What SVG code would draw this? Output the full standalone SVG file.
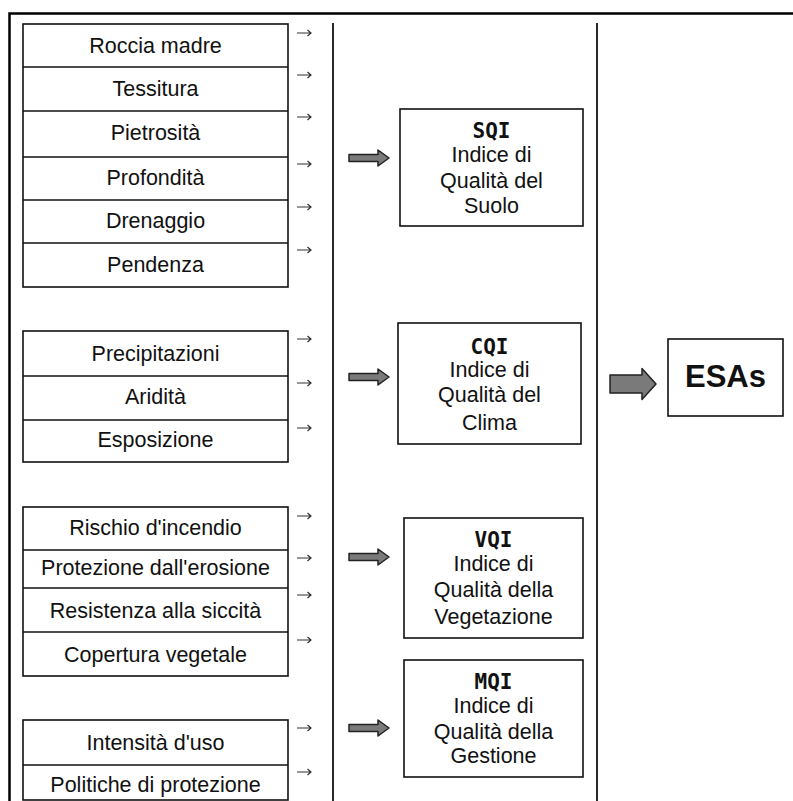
<svg xmlns="http://www.w3.org/2000/svg" width="793" height="801" viewBox="0 0 793 801">
<style>
.box{fill:#fff;stroke:#111;stroke-width:1.6}
.sep{stroke:#111;stroke-width:1.6}
.t{font-family:"Liberation Sans",Arial,sans-serif;font-size:21.5px;fill:#111;text-anchor:middle}
.h{font-family:"DejaVu Sans Mono","Liberation Mono",monospace;font-weight:bold;font-size:21px;fill:#111;text-anchor:middle}
.esa{font-family:"Liberation Sans",Arial,sans-serif;font-weight:bold;font-size:31px;fill:#111;text-anchor:middle}
.sa{fill:none;stroke:#333;stroke-width:1.2}
.ba{fill:#7a7a7a;stroke:#222;stroke-width:1.5;stroke-linejoin:round}
.frame{stroke:#000;stroke-width:2.5;fill:none}
.vl{stroke:#111;stroke-width:1.8}
</style>
<rect width="793" height="801" fill="#fff"/>
<path class="frame" d="M9.5,801 V13.5 H793"/>
<g id="dividers">
<line class="vl" x1="333" y1="23" x2="333" y2="801"/>
<line class="vl" x1="597" y1="23" x2="597" y2="801"/>
</g>
<g id="soil-factors">
<rect class="box" x="23" y="24" width="265" height="263"/>
<line class="sep" x1="23" y1="67" x2="288" y2="67"/>
<line class="sep" x1="23" y1="111" x2="288" y2="111"/>
<line class="sep" x1="23" y1="157" x2="288" y2="157"/>
<line class="sep" x1="23" y1="200" x2="288" y2="200"/>
<line class="sep" x1="23" y1="243" x2="288" y2="243"/>
<text class="t" x="155.5" y="53">Roccia madre</text>
<text class="t" x="155.5" y="96">Tessitura</text>
<text class="t" x="155.5" y="140">Pietrosità</text>
<text class="t" x="155.5" y="185">Profondità</text>
<text class="t" x="155.5" y="228">Drenaggio</text>
<text class="t" x="155.5" y="272">Pendenza</text>
</g>
<g id="climate-factors">
<rect class="box" x="23" y="331" width="265" height="131"/>
<line class="sep" x1="23" y1="376" x2="288" y2="376"/>
<line class="sep" x1="23" y1="420" x2="288" y2="420"/>
<text class="t" x="155.5" y="361">Precipitazioni</text>
<text class="t" x="155.5" y="404">Aridità</text>
<text class="t" x="155.5" y="447">Esposizione</text>
</g>
<g id="vegetation-factors">
<rect class="box" x="23" y="507" width="265" height="169"/>
<line class="sep" x1="23" y1="550" x2="288" y2="550"/>
<line class="sep" x1="23" y1="588" x2="288" y2="588"/>
<line class="sep" x1="23" y1="632" x2="288" y2="632"/>
<text class="t" x="155.5" y="535">Rischio d'incendio</text>
<text class="t" x="155.5" y="575">Protezione dall'erosione</text>
<text class="t" x="155.5" y="618">Resistenza alla siccità</text>
<text class="t" x="155.5" y="662">Copertura vegetale</text>
</g>
<g id="management-factors">
<rect class="box" x="23" y="720" width="265" height="80"/>
<line class="sep" x1="23" y1="765" x2="288" y2="765"/>
<text class="t" x="155.5" y="750">Intensità d'uso</text>
<text class="t" x="155.5" y="792">Politiche di protezione</text>
</g>
<g id="sqi">
<rect class="box" x="400" y="109" width="183" height="117"/>
<text class="h" x="491.5" y="137.5">SQI</text>
<text class="t" x="491.5" y="162">Indice di</text>
<text class="t" x="491.5" y="188">Qualità del</text>
<text class="t" x="491.5" y="213">Suolo</text>
</g>
<g id="cqi">
<rect class="box" x="398" y="323" width="183" height="121"/>
<text class="h" x="489.5" y="354">CQI</text>
<text class="t" x="489.5" y="377">Indice di</text>
<text class="t" x="489.5" y="402">Qualità del</text>
<text class="t" x="489.5" y="430">Clima</text>
</g>
<g id="vqi">
<rect class="box" x="404" y="518" width="179" height="120"/>
<text class="h" x="493.5" y="547">VQI</text>
<text class="t" x="493.5" y="571">Indice di</text>
<text class="t" x="493.5" y="597">Qualità della</text>
<text class="t" x="493.5" y="624">Vegetazione</text>
</g>
<g id="mqi">
<rect class="box" x="404" y="660" width="179" height="117"/>
<text class="h" x="493.5" y="689">MQI</text>
<text class="t" x="493.5" y="713">Indice di</text>
<text class="t" x="493.5" y="739">Qualità della</text>
<text class="t" x="493.5" y="763">Gestione</text>
</g>
<g id="esas">
<rect class="box" x="668" y="339" width="115" height="77"/>
<text class="esa" x="725.5" y="387">ESAs</text>
</g>
<g id="connectors">
<path class="sa" d="M297,33H311M307.5,30L311,33L307.5,36"/>
<path class="sa" d="M297,75H311M307.5,72L311,75L307.5,78"/>
<path class="sa" d="M297,117H311M307.5,114L311,117L307.5,120"/>
<path class="sa" d="M297,164H311M307.5,161L311,164L307.5,167"/>
<path class="sa" d="M297,207H311M307.5,204L311,207L307.5,210"/>
<path class="sa" d="M297,250H311M307.5,247L311,250L307.5,253"/>
<path class="sa" d="M297,339H311M307.5,336L311,339L307.5,342"/>
<path class="sa" d="M297,383H311M307.5,380L311,383L307.5,386"/>
<path class="sa" d="M297,428H311M307.5,425L311,428L307.5,431"/>
<path class="sa" d="M297,516H311M307.5,513L311,516L307.5,519"/>
<path class="sa" d="M297,558H311M307.5,555L311,558L307.5,561"/>
<path class="sa" d="M297,595H311M307.5,592L311,595L307.5,598"/>
<path class="sa" d="M297,640H311M307.5,637L311,640L307.5,643"/>
<path class="sa" d="M297,728H311M307.5,725L311,728L307.5,731"/>
<path class="sa" d="M297,772H311M307.5,769L311,772L307.5,775"/>
<path class="ba" d="M349,154.5H378V150L389,158L378,166V161.5H349Z"/>
<path class="ba" d="M349,373.5H378V369L389,377L378,385V380.5H349Z"/>
<path class="ba" d="M349,553.5H378V549L389,557L378,565V560.5H349Z"/>
<path class="ba" d="M349,724.5H378V720L389,728L378,736V731.5H349Z"/>
<path class="ba" d="M610,375H642V368.5L656,384L642,399.5V393H610Z"/>
</g>
</svg>
